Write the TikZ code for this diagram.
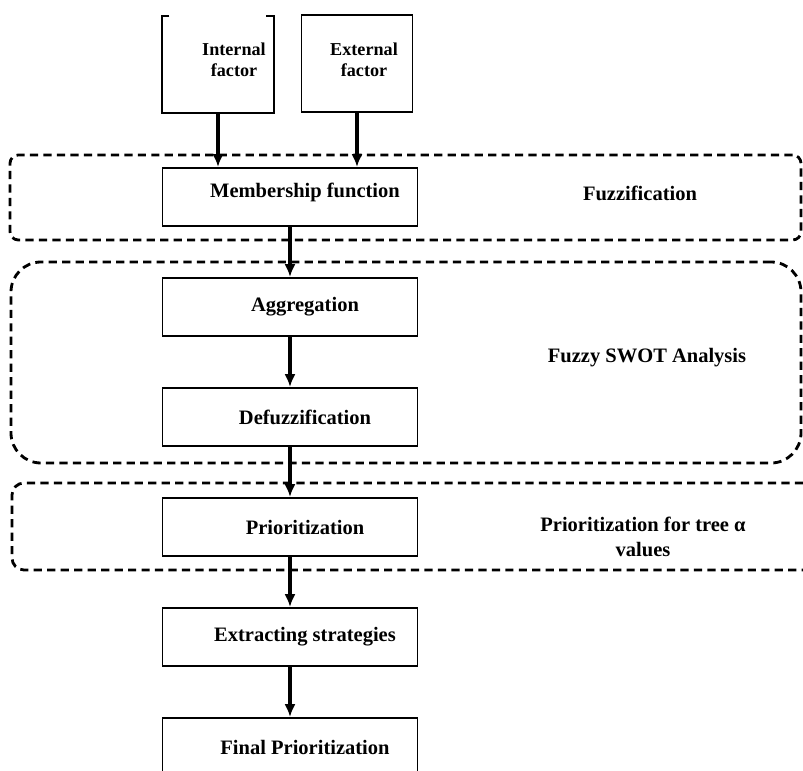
\documentclass[tikz,border=0pt]{standalone}
\usepackage{fontspec}
\setmainfont{Liberation Serif}
\usetikzlibrary{shapes, arrows.meta, positioning}
\tikzstyle{box}   = [draw, line width=1.7pt, minimum width=7.65cm, minimum height=1.74cm]
\tikzstyle{src}   = [minimum width=3.33cm, minimum height=2.91cm]
\tikzstyle{grp}   = [draw, line width=2.4pt, dash pattern=on 7pt off 4.5pt]
\tikzstyle{txt}   = [font=\fontsize{17.5}{21.3}\selectfont\bfseries, align=center]
\tikzstyle{lbl}   = [txt, xshift=0.45cm]
\tikzstyle{lblt}  = [font=\fontsize{15.5}{17.9}\selectfont\bfseries, align=center]
\tikzstyle{arr}   = [draw, line width=2.6pt, -{Latex[length=11pt, width=9.5pt]}]

\begin{document}
\begin{tikzpicture}[node distance=3.3cm]
\useasboundingbox (0,0) rectangle (24.09,-23.13);
\clip (0,0) rectangle (24.09,-23.13);

%dashed groups
\node [grp, rounded corners=0.25cm, minimum width=23.73cm, minimum height=2.55cm] (fzgrp) at (12.165,-5.925)  {};
\node [grp, rounded corners=0.9cm,  minimum width=23.7cm,  minimum height=6.03cm] (swgrp) at (12.18,-10.875)  {};
\node [grp, rounded corners=0.36cm, minimum width=24.09cm, minimum height=2.61cm] (prgrp) at (12.405,-15.795) {};

\node [txt] (fzl) at (19.2,-5.79)   {Fuzzification};
\node [txt] (swl) at (19.41,-10.74) {Fuzzy SWOT Analysis};
\node [txt] (prl) at (19.29,-16.11) {Prioritization for tree α\\values};

% factors
\node [src, label={[lblt, xshift=0.48cm, yshift=0.135cm]center:Internal\\factor}] (intl) at (6.54,-1.935) {};
\node [src, draw, line width=1.7pt,
       label={[lblt, xshift=0.21cm, yshift=0.1cm]center:External\\factor}]   (extl) at (10.71,-1.905) {};
\draw [line width=1.7pt] ([xshift=0.21cm]intl.north west) -- (intl.north west) -- (intl.south west)
      -- (intl.south east) -- (intl.north east) -- ([xshift=-0.24cm]intl.north east);

% flow
\node [box, label={[lbl, yshift=0.15cm]center:Membership function}] (mem) at (8.7,-5.91) {};
\node [box, below of=mem,   label={[lbl]center:Aggregation}]           (agg)  {};
\node [box, below of=agg,   label={[lbl]center:Defuzzification}]       (defz) {};
\node [box, below of=defz,  label={[lbl]center:Prioritization}]        (prio) {};
\node [box, below of=prio,  label={[lbl]center:Extracting strategies}] (extr) {};
\node [box, below of=extr,  label={[lbl]center:Final Prioritization}]  (fin)  {};

\draw [arr] (intl) -- (intl |- mem.north);
\draw [arr] (extl) -- (extl |- mem.north);
\draw [arr] (mem)  -- (agg);
\draw [arr] (agg)  -- (defz);
\draw [arr] (defz) -- (prio);
\draw [arr] (prio) -- (extr);
\draw [arr] (extr) -- (fin);

\end{tikzpicture}
\end{document}
